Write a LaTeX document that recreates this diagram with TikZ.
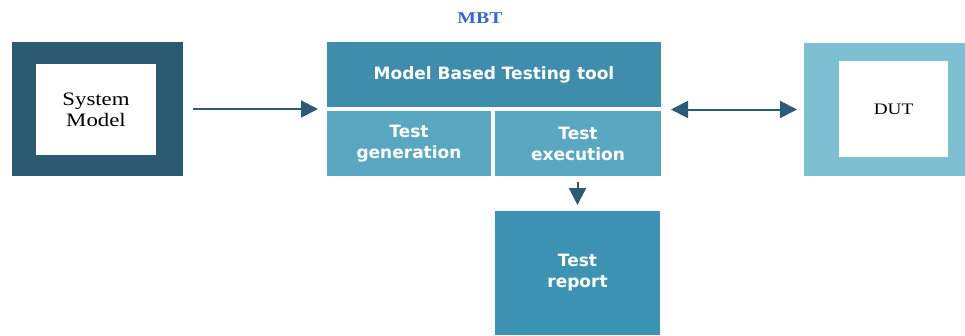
\documentclass[tikz,border=0pt]{standalone}
\usepackage{fontspec}
\setmainfont{Liberation Serif}[FakeStretch=1.2]
\newfontfamily\boxfont{DejaVu Sans}
\usetikzlibrary{arrows.meta}
\definecolor{sysdark}{HTML}{2B5B73}
\definecolor{tooltop}{HTML}{3E8DAD}
\definecolor{toollow}{HTML}{5AA7C2}
\definecolor{reportblue}{HTML}{3C93B3}
\definecolor{dutlight}{HTML}{7DC0D3}
\definecolor{arrowdark}{HTML}{2B5C75}
\definecolor{mbtblue}{HTML}{3366D6}
\begin{document}
\begin{tikzpicture}
    [
        x=1pt, y=-1pt,
        block/.style={rectangle, inner sep=0pt, outer sep=0pt, align=center,
            text=white, font=\boxfont\bfseries\fontsize{17}{21}\selectfont},
        frame/.style={rectangle, inner sep=0pt, outer sep=0pt},
        inner/.style={rectangle, fill=white, inner sep=0pt, outer sep=0pt, align=center},
        arrow/.style={draw=arrowdark, line width=2pt,
            -{Triangle[length=17pt, width=17pt]}},
    ]
    \useasboundingbox (0,0) rectangle (965,335);

    \node (sys) at (97.5,109) [frame, fill=sysdark,
        minimum width=171pt, minimum height=134pt] {};
    \node (sysin) at (96,109.5) [inner, minimum width=120pt, minimum height=91pt,
        font=\fontsize{19}{21}\selectfont] {System\\Model};

    \node (mbt) at (480,18) [text=mbtblue, font=\bfseries\fontsize{16.5}{18}\selectfont] {MBT};

    \node (tool) at (494,74.5) [block, fill=tooltop,
        minimum width=334pt, minimum height=65pt] {Model Based Testing tool};
    \node (gen) at (409,143.5) [block, fill=toollow,
        minimum width=164pt, minimum height=65pt] {Test\\generation};
    \node (exec) at (578,143.5) [block, fill=toollow,
        minimum width=166pt, minimum height=65pt] {Test\\execution};
    \node (report) at (577.5,273) [block, fill=reportblue,
        minimum width=165pt, minimum height=124pt] {Test\\report};

    \node (dut) at (884.5,109.5) [frame, fill=dutlight,
        minimum width=161pt, minimum height=133pt] {};
    \node (dutin) at (893.5,109) [inner, minimum width=109pt, minimum height=96pt,
        font=\fontsize{16}{19}\selectfont] {DUT};

    \draw[arrow, shorten <=10pt, shorten >=9pt] (sys.east) -- (sys.east -| gen.west);
    \draw[arrow, {Triangle[length=17pt, width=17pt]}-{Triangle[length=17pt, width=17pt]},
        shorten <=10pt, shorten >=7pt] (dut.west -| exec.east) -- (dut.west);
    \draw[arrow, shorten <=6pt, shorten >=6pt] (exec.south -| report.north) -- (report.north);
\end{tikzpicture}
\end{document}
